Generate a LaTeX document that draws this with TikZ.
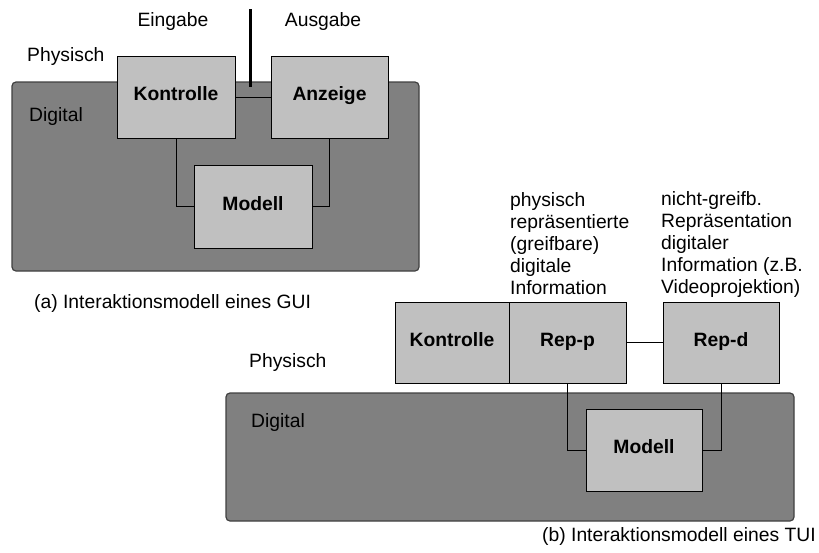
\documentclass[tikz,border=0pt]{standalone}
\usepackage{fontspec}
\setmainfont{Liberation Sans}
\definecolor{planegray}{HTML}{808080}
\definecolor{boxgray}{HTML}{C0C0C0}
\newcommand{\diafont}{\fontsize{19.3}{22}\selectfont}
\tikzset{
  plane/.style={draw=black!75,fill=planegray,line width=1.2pt,rounded corners=4pt},
  box/.style={draw,fill=boxgray,line width=0.9pt,inner sep=0pt,font=\diafont\bfseries,
    text height=0.72em,text depth=0pt},
  wire/.style={line width=0.9pt},
  lbl/.style={anchor=west,inner sep=0pt,font=\diafont},
  note/.style={anchor=north west,align=left,inner sep=0pt,font=\diafont},
}
\begin{document}
\begin{tikzpicture}[x=1pt,y=-1pt]
\useasboundingbox (0,0) rectangle (819,552);
% (a) GUI
\draw[plane] (12,82) rectangle (419,271);
\node[lbl] (phys_a) at (27,57) {Physisch};
\node[lbl] (dig_a) at (29,117) {Digital};
\node[font=\diafont,inner sep=0pt] (ein) at (173,22) {Eingabe};
\node[font=\diafont,inner sep=0pt] (aus) at (323,22) {Ausgabe};
\coordinate (split_top) at (250,9);
\coordinate (split_bot) at (250,87);
\draw[line width=3pt] (split_top) -- (split_bot);
\node[box,minimum width=118pt,minimum height=82pt] (kon_a) at (176,97) {Kontrolle};
\node[box,minimum width=117pt,minimum height=82pt] (anz_a) at (329.5,97) {Anzeige};
\node[box,minimum width=118pt,minimum height=83pt] (mod_a) at (253,206.5) {Modell};
\draw[wire] (kon_a.east) -- (anz_a.west);
\draw[wire] (kon_a.south) |- (mod_a.west);
\draw[wire] (anz_a.south) |- (mod_a.east);
\node[lbl] (cap_a) at (34,303) {(a) Interaktionsmodell eines GUI};
% (b) TUI
\draw[plane] (226,393) rectangle (794,521);
\node[lbl] (phys_b) at (249,363) {Physisch};
\node[lbl] (dig_b) at (251,423) {Digital};
\node[note] (txt_p) at (510,192) {physisch\\repräsentierte\\(greifbare)\\digitale\\Information};
\node[note] (txt_d) at (661,191) {nicht-greifb.\\Repräsentation\\digitaler\\Information (z.B.\\Videoprojektion)};
\node[box,minimum width=114pt,minimum height=81pt] (kon_b) at (452,342.5) {Kontrolle};
\node[box,minimum width=117pt,minimum height=81pt] (repp) at (567.5,342.5) {Rep-p};
\node[box,minimum width=116pt,minimum height=81pt] (repd) at (721,342.5) {Rep-d};
\node[box,minimum width=116pt,minimum height=82pt] (mod_b) at (644,450) {Modell};
\draw[wire] (repp.east) -- (repd.west);
\draw[wire] (repp.south) |- (mod_b.west);
\draw[wire] (repd.south) |- (mod_b.east);
\node[lbl] (cap_b) at (542,536) {(b) Interaktionsmodell eines TUI};
\end{tikzpicture}
\end{document}
